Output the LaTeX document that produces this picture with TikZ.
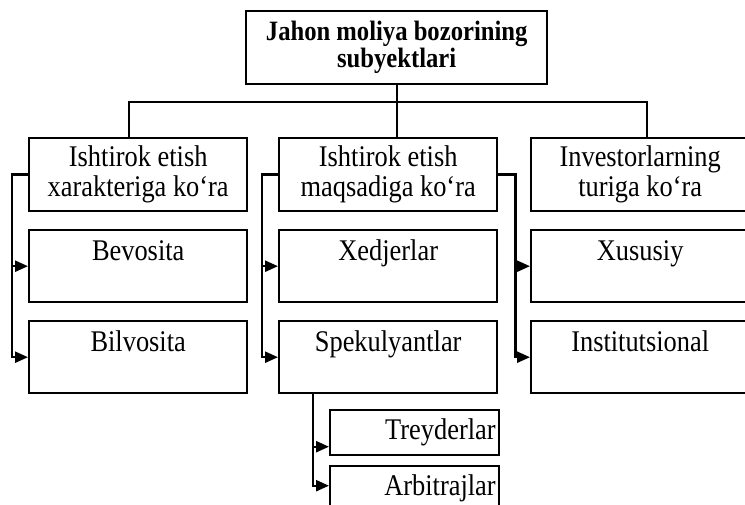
\documentclass[tikz,border=0pt]{standalone}
\usepackage{fontspec}
\setmainfont{Liberation Serif}[FakeStretch=0.88]
\usetikzlibrary{arrows.meta,positioning}
\tikzset{
    box/.style={draw, line width=2.4pt, rectangle, inner sep=0pt, anchor=north west, minimum width=218pt, font=\fontsize{30}{30}\selectfont},
    titlebox/.style={box, minimum width=301pt, minimum height=73pt, align=center, font=\fontsize{28}{27}\selectfont\bfseries},
    kind/.style={box, minimum height=73pt, align=center},
    leaf/.style={box, text height=30pt, text depth=42pt},
    subbox/.style={box, minimum width=169pt, text width=162pt, align=right, text height=29pt},
    conn/.style={draw, line width=2.4pt},
    arr/.style={conn, -{Triangle[length=13pt,width=11pt]}},
}

\begin{document}
\begin{tikzpicture}[x=1pt,y=-1pt]
    \useasboundingbox (0,0) rectangle (745,505);
    \clip (0,0) rectangle (745,505);

    \node[titlebox] (top) at (245,10) {Jahon moliya bozorining\\subyektlari};

    \node[kind] (k1) at (28,137) {Ishtirok etish\\xarakteriga ko‘ra};
    \node[kind] (k2) at (278,137) {Ishtirok etish\\maqsadiga ko‘ra};
    \node[kind] (k3) at (530,137) {Investorlarning\\turiga ko‘ra};

    \node[leaf] (a1) at (28,229) {Bevosita};
    \node[leaf] (b1) at (28,320) {Bilvosita};
    \node[leaf] (a2) at (278,229) {Xedjerlar};
    \node[leaf] (b2) at (278,320) {Spekulyantlar};
    \node[leaf] (a3) at (530,229) {Xususiy};
    \node[leaf] (b3) at (530,320) {Institutsional};

    \node[subbox, text depth=16pt] (tr) at (329,409) {Treyderlar};
    \node[subbox, text depth=30pt] (ar) at (329,465) {Arbitrajlar}; % cut by the page

    % top level
    \coordinate (bar) at (396,102);
    \draw[conn] (top.south) -- (top.south |- k2.north);
    \draw[conn] ([xshift=-9pt]k1.north) |- (bar) -| ([xshift=7pt]k3.north);

    % side brackets
    \foreach \from/\dx/\to in {k1.west/-16/a1, k1.west/-16/b1, k2.west/-16/a2, k2.west/-16/b2, k2.east/17/a3, k2.east/17/b3}
        \draw[arr] (\from) -- ++(\dx,0) |- (\to.west);

    \draw[arr] ([xshift=35pt]b2.south west) |- ([yshift=-14pt]tr.west);
    \draw[arr] ([xshift=35pt]b2.south west) |- ([yshift=10pt]ar.west);
\end{tikzpicture}
\end{document}
